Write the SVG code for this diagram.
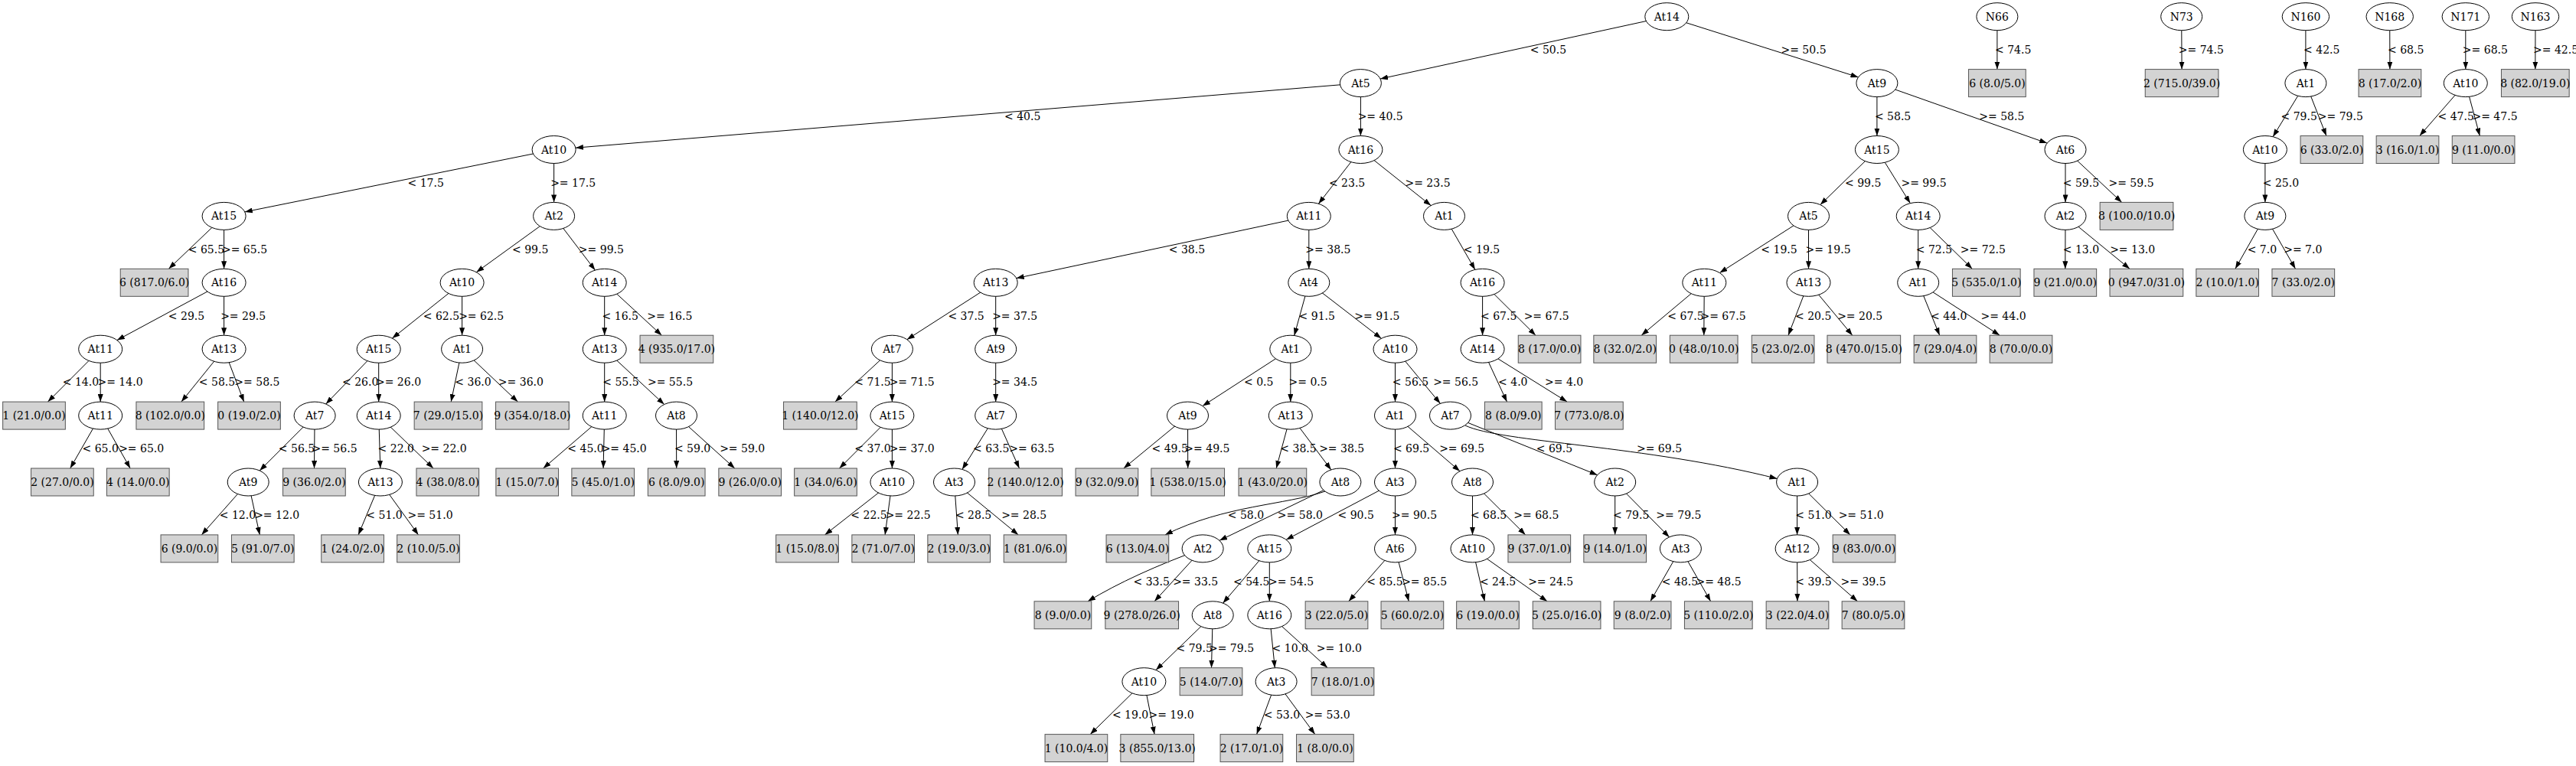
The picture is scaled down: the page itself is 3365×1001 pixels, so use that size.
<svg xmlns="http://www.w3.org/2000/svg" width="3365" height="1001" viewBox="0 0 3365 1001">
<defs>
<marker id="arr" viewBox="0 0 10 7" refX="10" refY="3.5" markerWidth="10" markerHeight="7" markerUnits="userSpaceOnUse" orient="auto"><path d="M0,0 L10,3.5 L0,7 z" fill="#000"/></marker>
<style>
text{font-family:"DejaVu Serif","Liberation Serif",serif;font-size:14px;fill:#000;text-anchor:middle}
#edges path{fill:none;stroke:#000;stroke-width:1;marker-end:url(#arr)}
ellipse{fill:#fff;stroke:#000;stroke-width:1}
rect.leaf{fill:#d3d3d3;stroke:#555;stroke-width:1;height:36px}
</style>
</defs>
<rect x="0" y="0" width="3365" height="1001" fill="#fff"/>
<g id="edges">
<path d="M2177.3,21.7 L1803.1,103"/>
<path d="M2177.3,21.7 L2427.5,100.9"/>
<path d="M1777.4,108.6 L751.9,193.2"/>
<path d="M1777.4,108.6 L1777.4,177.5"/>
<path d="M723.6,195.5 L319.8,276.9"/>
<path d="M723.6,195.5 L723.6,264.4"/>
<path d="M292.6,282.4 L220.4,351.3"/>
<path d="M292.6,282.4 L292.6,351.3"/>
<path d="M292.6,369.3 L152.9,444.5"/>
<path d="M292.6,369.3 L292.6,438.2"/>
<path d="M131.2,456.2 L62.5,525.1"/>
<path d="M131.2,456.2 L131.2,525.1"/>
<path d="M131.2,543.1 L91.7,612"/>
<path d="M131.2,543.1 L170.1,612"/>
<path d="M292.6,456.2 L236.9,525.1"/>
<path d="M292.6,456.2 L318.7,525.1"/>
<path d="M723.6,282.4 L622.3,355.7"/>
<path d="M723.6,282.4 L777.4,353.1"/>
<path d="M603.6,369.3 L512.4,442.1"/>
<path d="M603.6,369.3 L603.6,438.2"/>
<path d="M494.7,456.2 L425.7,528"/>
<path d="M494.7,456.2 L494.7,525.1"/>
<path d="M411.1,543.1 L339.2,615"/>
<path d="M411.1,543.1 L410.5,612"/>
<path d="M324.2,630 L263.3,698.9"/>
<path d="M324.2,630 L339.3,698.9"/>
<path d="M494.7,543.1 L496.8,612"/>
<path d="M494.7,543.1 L566.1,612"/>
<path d="M496.9,630 L468.1,698.9"/>
<path d="M496.9,630 L546.5,698.9"/>
<path d="M603.6,456.2 L589.2,525.1"/>
<path d="M603.6,456.2 L676.4,525.1"/>
<path d="M789.7,369.3 L789.7,438.2"/>
<path d="M789.7,369.3 L864.4,438.2"/>
<path d="M789.7,456.2 L789.7,525.1"/>
<path d="M789.7,456.2 L867.7,528.5"/>
<path d="M789.7,543.1 L709.6,612"/>
<path d="M789.7,543.1 L788.1,612"/>
<path d="M883.5,543.1 L883.7,612"/>
<path d="M883.5,543.1 L959.8,612"/>
<path d="M1777.4,195.5 L1722.4,266.2"/>
<path d="M1777.4,195.5 L1869.2,268.6"/>
<path d="M1709.8,282.4 L1327.7,363.6"/>
<path d="M1709.8,282.4 L1709.8,351.3"/>
<path d="M1300.7,369.3 L1184.8,443.7"/>
<path d="M1300.7,369.3 L1300.7,438.2"/>
<path d="M1165.4,456.2 L1090.9,525.1"/>
<path d="M1165.4,456.2 L1165.4,525.1"/>
<path d="M1165.4,543.1 L1096.5,612"/>
<path d="M1165.4,543.1 L1165.4,612"/>
<path d="M1165.4,630 L1077.5,698.9"/>
<path d="M1165.4,630 L1156.1,698.9"/>
<path d="M1300.7,456.2 L1300.7,525.1"/>
<path d="M1300.7,543.1 L1256.9,613.4"/>
<path d="M1300.7,543.1 L1331.5,612"/>
<path d="M1246.5,630 L1251.4,698.9"/>
<path d="M1246.5,630 L1330.2,698.9"/>
<path d="M1709.8,369.3 L1690.7,438.5"/>
<path d="M1709.8,369.3 L1804.4,442.3"/>
<path d="M1685.8,456.2 L1570.9,530.6"/>
<path d="M1685.8,456.2 L1685.8,525.1"/>
<path d="M1551.5,543.1 L1467.8,612"/>
<path d="M1551.5,543.1 L1551.7,612"/>
<path d="M1685.8,543.1 L1667.2,612"/>
<path d="M1685.8,543.1 L1738.8,613.9"/>
<path d="M1731,642 C1680,660 1600,660 1522,698.9"/>
<path d="M1750.9,630 L1593,706.3"/>
<path d="M1571.1,716.9 Q1480,750 1421,785.8"/>
<path d="M1571.1,716.9 L1508.1,785.8"/>
<path d="M1822.5,456.2 L1822.5,525.1"/>
<path d="M1822.5,456.2 L1881.4,527.3"/>
<path d="M1822.5,543.1 L1822.5,612"/>
<path d="M1822.5,543.1 L1907,615.8"/>
<path d="M1822.5,630 L1680.1,705.3"/>
<path d="M1822.5,630 L1822.5,698.9"/>
<path d="M1658.3,716.9 L1597.5,788.2"/>
<path d="M1658.3,716.9 L1658.3,785.8"/>
<path d="M1584.2,803.8 L1510,875.6"/>
<path d="M1584.2,803.8 L1582.5,872.7"/>
<path d="M1494.4,890.7 L1424.2,959.6"/>
<path d="M1494.4,890.7 L1508.1,959.6"/>
<path d="M1658.3,803.8 L1665.3,872.7"/>
<path d="M1658.3,803.8 L1734.2,872.7"/>
<path d="M1667.1,890.7 L1641.6,959.6"/>
<path d="M1667.1,890.7 L1717.7,959.6"/>
<path d="M1822.5,716.9 L1761.8,785.8"/>
<path d="M1822.5,716.9 L1840.3,785.8"/>
<path d="M1923.5,630 L1923.5,698.9"/>
<path d="M1923.5,630 L1992.7,698.9"/>
<path d="M1923.5,716.9 L1939.4,785.8"/>
<path d="M1923.5,716.9 L2021.1,785.8"/>
<path d="M1894.5,543.1 L2086.6,620.7"/>
<path d="M1914,556 C1960,578 2150,582 2321.5,625.5"/>
<path d="M2109.7,630 L2109.7,698.9"/>
<path d="M2109.7,630 L2180.6,701.9"/>
<path d="M2195.4,716.9 L2155.9,785.8"/>
<path d="M2195.4,716.9 L2234.6,785.8"/>
<path d="M2347.6,630 L2347.6,698.9"/>
<path d="M2347.6,630 L2416.9,698.9"/>
<path d="M2347.6,716.9 L2347.9,785.8"/>
<path d="M2347.6,716.9 L2426.4,785.8"/>
<path d="M1886.5,282.4 L1926.9,352.4"/>
<path d="M1936.6,369.3 L1936.6,438.2"/>
<path d="M1936.6,369.3 L2006,438.2"/>
<path d="M1936.6,456.2 L1968.5,525.1"/>
<path d="M1936.6,456.2 L2047.1,525.1"/>
<path d="M2451.9,108.6 L2451.9,177.5"/>
<path d="M2451.9,108.6 L2674.1,187.1"/>
<path d="M2451.9,195.5 L2377.8,267.6"/>
<path d="M2451.9,195.5 L2495.3,265.6"/>
<path d="M2362.5,282.4 L2246.4,356.5"/>
<path d="M2362.5,282.4 L2362.5,351.3"/>
<path d="M2226.3,369.3 L2144.2,438.2"/>
<path d="M2226.3,369.3 L2225.8,438.2"/>
<path d="M2362.5,369.3 L2336,438.2"/>
<path d="M2362.5,369.3 L2419.8,438.2"/>
<path d="M2505.7,282.4 L2505.7,351.3"/>
<path d="M2505.7,282.4 L2576.3,351.3"/>
<path d="M2505.7,369.3 L2533.7,438.2"/>
<path d="M2505.7,369.3 L2612.2,438.2"/>
<path d="M2698,195.5 L2698,264.4"/>
<path d="M2698,195.5 L2771.7,264.4"/>
<path d="M2698,282.4 L2697.8,351.3"/>
<path d="M2698,282.4 L2782,351.3"/>
<path d="M2608.9,21.7 L2608.9,90.6"/>
<path d="M2849.7,21.7 L2850.1,90.6"/>
<path d="M3011.9,21.7 L3011.9,90.6"/>
<path d="M3011.9,108.6 L2969.1,178.7"/>
<path d="M3011.9,108.6 L3038.9,177.5"/>
<path d="M2958.9,195.5 L2958.9,264.4"/>
<path d="M2958.9,282.4 L2919.9,351.3"/>
<path d="M2958.9,282.4 L2998.5,351.3"/>
<path d="M3121.7,21.7 L3121.9,90.6"/>
<path d="M3220.8,21.7 L3220.8,90.6"/>
<path d="M3220.8,108.6 L3160.7,177.5"/>
<path d="M3220.8,108.6 L3239.3,177.5"/>
<path d="M3312,21.7 L3311.8,90.6"/>
</g>
<g id="edge-labels">
<text x="2022.4" y="69.9">&lt; 50.5</text>
<text x="2356" y="69.9">&gt;= 50.5</text>
<text x="1335.7" y="156.8">&lt; 40.5</text>
<text x="1803.2" y="156.8">&gt;= 40.5</text>
<text x="556.2" y="243.7">&lt; 17.5</text>
<text x="748.7" y="243.7">&gt;= 17.5</text>
<text x="269.4" y="330.6">&lt; 65.5</text>
<text x="319.5" y="330.6">&gt;= 65.5</text>
<text x="243.5" y="417.5">&lt; 29.5</text>
<text x="317.7" y="417.5">&gt;= 29.5</text>
<text x="105.4" y="504.4">&lt; 14.0</text>
<text x="157" y="504.4">&gt;= 14.0</text>
<text x="131.2" y="591.3">&lt; 65.0</text>
<text x="184.7" y="591.3">&gt;= 65.0</text>
<text x="283.5" y="504.4">&lt; 58.5</text>
<text x="335.9" y="504.4">&gt;= 58.5</text>
<text x="692.7" y="330.6">&lt; 99.5</text>
<text x="785.4" y="330.6">&gt;= 99.5</text>
<text x="576.4" y="417.5">&lt; 62.5</text>
<text x="628.7" y="417.5">&gt;= 62.5</text>
<text x="470.7" y="504.4">&lt; 26.0</text>
<text x="520.5" y="504.4">&gt;= 26.0</text>
<text x="387.5" y="591.3">&lt; 56.5</text>
<text x="437" y="591.3">&gt;= 56.5</text>
<text x="310.4" y="678.2">&lt; 12.0</text>
<text x="361.7" y="678.2">&gt;= 12.0</text>
<text x="517.3" y="591.3">&lt; 22.0</text>
<text x="580.2" y="591.3">&gt;= 22.0</text>
<text x="502" y="678.2">&lt; 51.0</text>
<text x="562" y="678.2">&gt;= 51.0</text>
<text x="618" y="504.4">&lt; 36.0</text>
<text x="680.4" y="504.4">&gt;= 36.0</text>
<text x="810.3" y="417.5">&lt; 16.5</text>
<text x="874.8" y="417.5">&gt;= 16.5</text>
<text x="810.9" y="504.4">&lt; 55.5</text>
<text x="875.5" y="504.4">&gt;= 55.5</text>
<text x="765" y="591.3">&lt; 45.0</text>
<text x="815.2" y="591.3">&gt;= 45.0</text>
<text x="904.6" y="591.3">&lt; 59.0</text>
<text x="969.7" y="591.3">&gt;= 59.0</text>
<text x="1759.6" y="243.7">&lt; 23.5</text>
<text x="1865" y="243.7">&gt;= 23.5</text>
<text x="1550.4" y="330.6">&lt; 38.5</text>
<text x="1734.9" y="330.6">&gt;= 38.5</text>
<text x="1262.1" y="417.5">&lt; 37.5</text>
<text x="1325.7" y="417.5">&gt;= 37.5</text>
<text x="1140" y="504.4">&lt; 71.5</text>
<text x="1191.2" y="504.4">&gt;= 71.5</text>
<text x="1140" y="591.3">&lt; 37.0</text>
<text x="1191.2" y="591.3">&gt;= 37.0</text>
<text x="1135" y="678.2">&lt; 22.5</text>
<text x="1186.2" y="678.2">&gt;= 22.5</text>
<text x="1325.7" y="504.4">&gt;= 34.5</text>
<text x="1294.8" y="591.3">&lt; 63.5</text>
<text x="1347.9" y="591.3">&gt;= 63.5</text>
<text x="1271.6" y="678.2">&lt; 28.5</text>
<text x="1337.7" y="678.2">&gt;= 28.5</text>
<text x="1720.3" y="417.5">&lt; 91.5</text>
<text x="1798.9" y="417.5">&gt;= 91.5</text>
<text x="1644.2" y="504.4">&lt; 0.5</text>
<text x="1708.6" y="504.4">&gt;= 0.5</text>
<text x="1528.2" y="591.3">&lt; 49.5</text>
<text x="1576.9" y="591.3">&gt;= 49.5</text>
<text x="1696" y="591.3">&lt; 38.5</text>
<text x="1752.7" y="591.3">&gt;= 38.5</text>
<text x="1627.4" y="678.2">&lt; 58.0</text>
<text x="1698.4" y="678.2">&gt;= 58.0</text>
<text x="1504.2" y="765.1">&lt; 33.5</text>
<text x="1561.7" y="765.1">&gt;= 33.5</text>
<text x="1842.5" y="504.4">&lt; 56.5</text>
<text x="1901.7" y="504.4">&gt;= 56.5</text>
<text x="1843.6" y="591.3">&lt; 69.5</text>
<text x="1909.7" y="591.3">&gt;= 69.5</text>
<text x="1771.2" y="678.2">&lt; 90.5</text>
<text x="1847.6" y="678.2">&gt;= 90.5</text>
<text x="1634.7" y="765.1">&lt; 54.5</text>
<text x="1686.5" y="765.1">&gt;= 54.5</text>
<text x="1560.2" y="852">&lt; 79.5</text>
<text x="1608.5" y="852">&gt;= 79.5</text>
<text x="1476.6" y="938.9">&lt; 19.0</text>
<text x="1530" y="938.9">&gt;= 19.0</text>
<text x="1685.3" y="852">&lt; 10.0</text>
<text x="1749.4" y="852">&gt;= 10.0</text>
<text x="1674.4" y="938.9">&lt; 53.0</text>
<text x="1734.2" y="938.9">&gt;= 53.0</text>
<text x="1809" y="765.1">&lt; 85.5</text>
<text x="1860.7" y="765.1">&gt;= 85.5</text>
<text x="1944.6" y="678.2">&lt; 68.5</text>
<text x="2006.8" y="678.2">&gt;= 68.5</text>
<text x="1956.6" y="765.1">&lt; 24.5</text>
<text x="2025.7" y="765.1">&gt;= 24.5</text>
<text x="2030.4" y="591.3">&lt; 69.5</text>
<text x="2167.5" y="591.3">&gt;= 69.5</text>
<text x="2130.7" y="678.2">&lt; 79.5</text>
<text x="2192.9" y="678.2">&gt;= 79.5</text>
<text x="2194.4" y="765.1">&lt; 48.5</text>
<text x="2245" y="765.1">&gt;= 48.5</text>
<text x="2369" y="678.2">&lt; 51.0</text>
<text x="2431.2" y="678.2">&gt;= 51.0</text>
<text x="2369" y="765.1">&lt; 39.5</text>
<text x="2434.1" y="765.1">&gt;= 39.5</text>
<text x="1935.5" y="330.6">&lt; 19.5</text>
<text x="1957.7" y="417.5">&lt; 67.5</text>
<text x="2020.2" y="417.5">&gt;= 67.5</text>
<text x="1976.3" y="504.4">&lt; 4.0</text>
<text x="2043.1" y="504.4">&gt;= 4.0</text>
<text x="2472.6" y="156.8">&lt; 58.5</text>
<text x="2614.8" y="156.8">&gt;= 58.5</text>
<text x="2433.7" y="243.7">&lt; 99.5</text>
<text x="2513" y="243.7">&gt;= 99.5</text>
<text x="2324" y="330.6">&lt; 19.5</text>
<text x="2388" y="330.6">&gt;= 19.5</text>
<text x="2202" y="417.5">&lt; 67.5</text>
<text x="2251" y="417.5">&gt;= 67.5</text>
<text x="2368.7" y="417.5">&lt; 20.5</text>
<text x="2429.7" y="417.5">&gt;= 20.5</text>
<text x="2526.4" y="330.6">&lt; 72.5</text>
<text x="2590.4" y="330.6">&gt;= 72.5</text>
<text x="2545.7" y="417.5">&lt; 44.0</text>
<text x="2617" y="417.5">&gt;= 44.0</text>
<text x="2718.4" y="243.7">&lt; 59.5</text>
<text x="2784" y="243.7">&gt;= 59.5</text>
<text x="2718.4" y="330.6">&lt; 13.0</text>
<text x="2785.7" y="330.6">&gt;= 13.0</text>
<text x="2629.7" y="69.9">&lt; 74.5</text>
<text x="2875.3" y="69.9">&gt;= 74.5</text>
<text x="3032.8" y="69.9">&lt; 42.5</text>
<text x="3003.2" y="156.8">&lt; 79.5</text>
<text x="3057.3" y="156.8">&gt;= 79.5</text>
<text x="2979.4" y="243.7">&lt; 25.0</text>
<text x="2954.9" y="330.6">&lt; 7.0</text>
<text x="3008.3" y="330.6">&gt;= 7.0</text>
<text x="3142.7" y="69.9">&lt; 68.5</text>
<text x="3246.4" y="69.9">&gt;= 68.5</text>
<text x="3208.2" y="156.8">&lt; 47.5</text>
<text x="3259" y="156.8">&gt;= 47.5</text>
<text x="3338.6" y="69.9">&gt;= 42.5</text>
</g>
<g id="nodes">
<g id="n1"><ellipse cx="2177.3" cy="21.7" rx="28.5" ry="18"/><text x="2177.3" y="26.7">At14</text></g>
<g id="n2"><ellipse cx="1777.4" cy="108.6" rx="27" ry="18"/><text x="1777.4" y="113.6">At5</text></g>
<g id="n3"><ellipse cx="2451.9" cy="108.6" rx="27" ry="18"/><text x="2451.9" y="113.6">At9</text></g>
<g id="n4"><ellipse cx="723.6" cy="195.5" rx="28.5" ry="18"/><text x="723.6" y="200.5">At10</text></g>
<g id="n5"><ellipse cx="1777.4" cy="195.5" rx="28.5" ry="18"/><text x="1777.4" y="200.5">At16</text></g>
<g id="n6"><ellipse cx="292.6" cy="282.4" rx="28.5" ry="18"/><text x="292.6" y="287.4">At15</text></g>
<g id="n7"><ellipse cx="723.6" cy="282.4" rx="27" ry="18"/><text x="723.6" y="287.4">At2</text></g>
<g id="n8"><ellipse cx="292.6" cy="369.3" rx="28.5" ry="18"/><text x="292.6" y="374.3">At16</text></g>
<g id="n9"><ellipse cx="131.2" cy="456.2" rx="28.5" ry="18"/><text x="131.2" y="461.2">At11</text></g>
<g id="n10"><ellipse cx="292.6" cy="456.2" rx="28.5" ry="18"/><text x="292.6" y="461.2">At13</text></g>
<g id="n11"><ellipse cx="131.2" cy="543.1" rx="28.5" ry="18"/><text x="131.2" y="548.1">At11</text></g>
<g id="n12"><ellipse cx="603.6" cy="369.3" rx="28.5" ry="18"/><text x="603.6" y="374.3">At10</text></g>
<g id="n13"><ellipse cx="789.7" cy="369.3" rx="28.5" ry="18"/><text x="789.7" y="374.3">At14</text></g>
<g id="n14"><ellipse cx="494.7" cy="456.2" rx="28.5" ry="18"/><text x="494.7" y="461.2">At15</text></g>
<g id="n15"><ellipse cx="603.6" cy="456.2" rx="27" ry="18"/><text x="603.6" y="461.2">At1</text></g>
<g id="n16"><ellipse cx="411.1" cy="543.1" rx="27" ry="18"/><text x="411.1" y="548.1">At7</text></g>
<g id="n17"><ellipse cx="494.7" cy="543.1" rx="28.5" ry="18"/><text x="494.7" y="548.1">At14</text></g>
<g id="n18"><ellipse cx="324.2" cy="630" rx="27" ry="18"/><text x="324.2" y="635">At9</text></g>
<g id="n19"><ellipse cx="496.9" cy="630" rx="28.5" ry="18"/><text x="496.9" y="635">At13</text></g>
<g id="n20"><ellipse cx="789.7" cy="456.2" rx="28.5" ry="18"/><text x="789.7" y="461.2">At13</text></g>
<g id="n21"><ellipse cx="789.7" cy="543.1" rx="28.5" ry="18"/><text x="789.7" y="548.1">At11</text></g>
<g id="n22"><ellipse cx="883.5" cy="543.1" rx="27" ry="18"/><text x="883.5" y="548.1">At8</text></g>
<g id="n23"><ellipse cx="1709.8" cy="282.4" rx="28.5" ry="18"/><text x="1709.8" y="287.4">At11</text></g>
<g id="n24"><ellipse cx="1886.5" cy="282.4" rx="27" ry="18"/><text x="1886.5" y="287.4">At1</text></g>
<g id="n25"><ellipse cx="1300.7" cy="369.3" rx="28.5" ry="18"/><text x="1300.7" y="374.3">At13</text></g>
<g id="n26"><ellipse cx="1709.8" cy="369.3" rx="27" ry="18"/><text x="1709.8" y="374.3">At4</text></g>
<g id="n27"><ellipse cx="1165.4" cy="456.2" rx="27" ry="18"/><text x="1165.4" y="461.2">At7</text></g>
<g id="n28"><ellipse cx="1300.7" cy="456.2" rx="27" ry="18"/><text x="1300.7" y="461.2">At9</text></g>
<g id="n29"><ellipse cx="1165.4" cy="543.1" rx="28.5" ry="18"/><text x="1165.4" y="548.1">At15</text></g>
<g id="n30"><ellipse cx="1165.4" cy="630" rx="28.5" ry="18"/><text x="1165.4" y="635">At10</text></g>
<g id="n31"><ellipse cx="1300.7" cy="543.1" rx="27" ry="18"/><text x="1300.7" y="548.1">At7</text></g>
<g id="n32"><ellipse cx="1246.5" cy="630" rx="27" ry="18"/><text x="1246.5" y="635">At3</text></g>
<g id="n33"><ellipse cx="1685.8" cy="456.2" rx="27" ry="18"/><text x="1685.8" y="461.2">At1</text></g>
<g id="n34"><ellipse cx="1822.5" cy="456.2" rx="28.5" ry="18"/><text x="1822.5" y="461.2">At10</text></g>
<g id="n35"><ellipse cx="1551.5" cy="543.1" rx="27" ry="18"/><text x="1551.5" y="548.1">At9</text></g>
<g id="n36"><ellipse cx="1685.8" cy="543.1" rx="28.5" ry="18"/><text x="1685.8" y="548.1">At13</text></g>
<g id="n37"><ellipse cx="1750.9" cy="630" rx="27" ry="18"/><text x="1750.9" y="635">At8</text></g>
<g id="n38"><ellipse cx="1571.1" cy="716.9" rx="27" ry="18"/><text x="1571.1" y="721.9">At2</text></g>
<g id="n39"><ellipse cx="1822.5" cy="543.1" rx="27" ry="18"/><text x="1822.5" y="548.1">At1</text></g>
<g id="n40"><ellipse cx="1894.5" cy="543.1" rx="27" ry="18"/><text x="1894.5" y="548.1">At7</text></g>
<g id="n41"><ellipse cx="1822.5" cy="630" rx="27" ry="18"/><text x="1822.5" y="635">At3</text></g>
<g id="n42"><ellipse cx="1923.5" cy="630" rx="27" ry="18"/><text x="1923.5" y="635">At8</text></g>
<g id="n43"><ellipse cx="1658.3" cy="716.9" rx="28.5" ry="18"/><text x="1658.3" y="721.9">At15</text></g>
<g id="n44"><ellipse cx="1822.5" cy="716.9" rx="27" ry="18"/><text x="1822.5" y="721.9">At6</text></g>
<g id="n45"><ellipse cx="1584.2" cy="803.8" rx="27" ry="18"/><text x="1584.2" y="808.8">At8</text></g>
<g id="n46"><ellipse cx="1658.3" cy="803.8" rx="28.5" ry="18"/><text x="1658.3" y="808.8">At16</text></g>
<g id="n47"><ellipse cx="1494.4" cy="890.7" rx="28.5" ry="18"/><text x="1494.4" y="895.7">At10</text></g>
<g id="n48"><ellipse cx="1667.1" cy="890.7" rx="27" ry="18"/><text x="1667.1" y="895.7">At3</text></g>
<g id="n49"><ellipse cx="1923.5" cy="716.9" rx="28.5" ry="18"/><text x="1923.5" y="721.9">At10</text></g>
<g id="n50"><ellipse cx="2109.7" cy="630" rx="27" ry="18"/><text x="2109.7" y="635">At2</text></g>
<g id="n51"><ellipse cx="2347.6" cy="630" rx="27" ry="18"/><text x="2347.6" y="635">At1</text></g>
<g id="n52"><ellipse cx="2195.4" cy="716.9" rx="27" ry="18"/><text x="2195.4" y="721.9">At3</text></g>
<g id="n53"><ellipse cx="2347.6" cy="716.9" rx="28.5" ry="18"/><text x="2347.6" y="721.9">At12</text></g>
<g id="n54"><ellipse cx="1936.6" cy="369.3" rx="28.5" ry="18"/><text x="1936.6" y="374.3">At16</text></g>
<g id="n55"><ellipse cx="1936.6" cy="456.2" rx="28.5" ry="18"/><text x="1936.6" y="461.2">At14</text></g>
<g id="n56"><ellipse cx="2451.9" cy="195.5" rx="28.5" ry="18"/><text x="2451.9" y="200.5">At15</text></g>
<g id="n57"><ellipse cx="2698" cy="195.5" rx="27" ry="18"/><text x="2698" y="200.5">At6</text></g>
<g id="n58"><ellipse cx="2362.5" cy="282.4" rx="27" ry="18"/><text x="2362.5" y="287.4">At5</text></g>
<g id="n59"><ellipse cx="2505.7" cy="282.4" rx="28.5" ry="18"/><text x="2505.7" y="287.4">At14</text></g>
<g id="n60"><ellipse cx="2698" cy="282.4" rx="27" ry="18"/><text x="2698" y="287.4">At2</text></g>
<g id="n61"><ellipse cx="2226.3" cy="369.3" rx="28.5" ry="18"/><text x="2226.3" y="374.3">At11</text></g>
<g id="n62"><ellipse cx="2362.5" cy="369.3" rx="28.5" ry="18"/><text x="2362.5" y="374.3">At13</text></g>
<g id="n63"><ellipse cx="2505.7" cy="369.3" rx="27" ry="18"/><text x="2505.7" y="374.3">At1</text></g>
<g id="n64"><ellipse cx="2608.9" cy="21.7" rx="27" ry="18"/><text x="2608.9" y="26.7">N66</text></g>
<g id="n65"><ellipse cx="2849.7" cy="21.7" rx="27" ry="18"/><text x="2849.7" y="26.7">N73</text></g>
<g id="n66"><ellipse cx="3011.9" cy="21.7" rx="30.7" ry="18"/><text x="3011.9" y="26.7">N160</text></g>
<g id="n67"><ellipse cx="3011.9" cy="108.6" rx="27" ry="18"/><text x="3011.9" y="113.6">At1</text></g>
<g id="n68"><ellipse cx="2958.9" cy="195.5" rx="28.5" ry="18"/><text x="2958.9" y="200.5">At10</text></g>
<g id="n69"><ellipse cx="2958.9" cy="282.4" rx="27" ry="18"/><text x="2958.9" y="287.4">At9</text></g>
<g id="n70"><ellipse cx="3121.7" cy="21.7" rx="30.7" ry="18"/><text x="3121.7" y="26.7">N168</text></g>
<g id="n71"><ellipse cx="3220.8" cy="21.7" rx="30.7" ry="18"/><text x="3220.8" y="26.7">N171</text></g>
<g id="n72"><ellipse cx="3220.8" cy="108.6" rx="28.5" ry="18"/><text x="3220.8" y="113.6">At10</text></g>
<g id="n73"><ellipse cx="3312" cy="21.7" rx="30.7" ry="18"/><text x="3312" y="26.7">N163</text></g>
<g id="l1"><rect class="leaf" x="157.25" y="351.3" width="88.7" height="36"/><text x="201.6" y="374.3">6 (817.0/6.0)</text></g>
<g id="l2"><rect class="leaf" x="3.65" y="525.1" width="81.7" height="36"/><text x="44.5" y="548.1">1 (21.0/0.0)</text></g>
<g id="l3"><rect class="leaf" x="177.95" y="525.1" width="88.7" height="36"/><text x="222.3" y="548.1">8 (102.0/0.0)</text></g>
<g id="l4"><rect class="leaf" x="284.65" y="525.1" width="81.7" height="36"/><text x="325.5" y="548.1">0 (19.0/2.0)</text></g>
<g id="l5"><rect class="leaf" x="40.55" y="612" width="81.7" height="36"/><text x="81.4" y="635">2 (27.0/0.0)</text></g>
<g id="l6"><rect class="leaf" x="139.45" y="612" width="81.7" height="36"/><text x="180.3" y="635">4 (14.0/0.0)</text></g>
<g id="l7"><rect class="leaf" x="369.55" y="612" width="81.7" height="36"/><text x="410.4" y="635">9 (36.0/2.0)</text></g>
<g id="l8"><rect class="leaf" x="210.05" y="698.9" width="74.7" height="36"/><text x="247.4" y="721.9">6 (9.0/0.0)</text></g>
<g id="l9"><rect class="leaf" x="302.45" y="698.9" width="81.7" height="36"/><text x="343.3" y="721.9">5 (91.0/7.0)</text></g>
<g id="l10"><rect class="leaf" x="543.95" y="612" width="81.7" height="36"/><text x="584.8" y="635">4 (38.0/8.0)</text></g>
<g id="l11"><rect class="leaf" x="419.75" y="698.9" width="81.7" height="36"/><text x="460.6" y="721.9">1 (24.0/2.0)</text></g>
<g id="l12"><rect class="leaf" x="518.65" y="698.9" width="81.7" height="36"/><text x="559.5" y="721.9">2 (10.0/5.0)</text></g>
<g id="l13"><rect class="leaf" x="541.15" y="525.1" width="88.7" height="36"/><text x="585.5" y="548.1">7 (29.0/15.0)</text></g>
<g id="l14"><rect class="leaf" x="647.55" y="525.1" width="95.7" height="36"/><text x="695.4" y="548.1">9 (354.0/18.0)</text></g>
<g id="l15"><rect class="leaf" x="836.05" y="438.2" width="95.7" height="36"/><text x="883.9" y="461.2">4 (935.0/17.0)</text></g>
<g id="l16"><rect class="leaf" x="647.85" y="612" width="81.7" height="36"/><text x="688.7" y="635">1 (15.0/7.0)</text></g>
<g id="l17"><rect class="leaf" x="746.85" y="612" width="81.7" height="36"/><text x="787.7" y="635">5 (45.0/1.0)</text></g>
<g id="l18"><rect class="leaf" x="846.35" y="612" width="74.7" height="36"/><text x="883.7" y="635">6 (8.0/9.0)</text></g>
<g id="l19"><rect class="leaf" x="938.85" y="612" width="81.7" height="36"/><text x="979.7" y="635">9 (26.0/0.0)</text></g>
<g id="l20"><rect class="leaf" x="1023.55" y="525.1" width="95.7" height="36"/><text x="1071.4" y="548.1">1 (140.0/12.0)</text></g>
<g id="l21"><rect class="leaf" x="1037.65" y="612" width="81.7" height="36"/><text x="1078.5" y="635">1 (34.0/6.0)</text></g>
<g id="l22"><rect class="leaf" x="1013.65" y="698.9" width="81.7" height="36"/><text x="1054.5" y="721.9">1 (15.0/8.0)</text></g>
<g id="l23"><rect class="leaf" x="1112.85" y="698.9" width="81.7" height="36"/><text x="1153.7" y="721.9">2 (71.0/7.0)</text></g>
<g id="l24"><rect class="leaf" x="1291.75" y="612" width="95.7" height="36"/><text x="1339.6" y="635">2 (140.0/12.0)</text></g>
<g id="l25"><rect class="leaf" x="1211.85" y="698.9" width="81.7" height="36"/><text x="1252.7" y="721.9">2 (19.0/3.0)</text></g>
<g id="l26"><rect class="leaf" x="1311.25" y="698.9" width="81.7" height="36"/><text x="1352.1" y="721.9">1 (81.0/6.0)</text></g>
<g id="l27"><rect class="leaf" x="1405.05" y="612" width="81.7" height="36"/><text x="1445.9" y="635">9 (32.0/9.0)</text></g>
<g id="l28"><rect class="leaf" x="1503.85" y="612" width="95.7" height="36"/><text x="1551.7" y="635">1 (538.0/15.0)</text></g>
<g id="l29"><rect class="leaf" x="1618.05" y="612" width="88.7" height="36"/><text x="1662.4" y="635">1 (43.0/20.0)</text></g>
<g id="l30"><rect class="leaf" x="1445.05" y="698.9" width="81.7" height="36"/><text x="1485.9" y="721.9">6 (13.0/4.0)</text></g>
<g id="l31"><rect class="leaf" x="1351.05" y="785.8" width="74.7" height="36"/><text x="1388.4" y="808.8">8 (9.0/0.0)</text></g>
<g id="l32"><rect class="leaf" x="1443.85" y="785.8" width="95.7" height="36"/><text x="1491.7" y="808.8">9 (278.0/26.0)</text></g>
<g id="l33"><rect class="leaf" x="1541.15" y="872.7" width="81.7" height="36"/><text x="1582" y="895.7">5 (14.0/7.0)</text></g>
<g id="l34"><rect class="leaf" x="1365.05" y="959.6" width="81.7" height="36"/><text x="1405.9" y="982.6">1 (10.0/4.0)</text></g>
<g id="l35"><rect class="leaf" x="1463.85" y="959.6" width="95.7" height="36"/><text x="1511.7" y="982.6">3 (855.0/13.0)</text></g>
<g id="l36"><rect class="leaf" x="1713.15" y="872.7" width="81.7" height="36"/><text x="1754" y="895.7">7 (18.0/1.0)</text></g>
<g id="l37"><rect class="leaf" x="1594.05" y="959.6" width="81.7" height="36"/><text x="1634.9" y="982.6">2 (17.0/1.0)</text></g>
<g id="l38"><rect class="leaf" x="1693.55" y="959.6" width="74.7" height="36"/><text x="1730.9" y="982.6">1 (8.0/0.0)</text></g>
<g id="l39"><rect class="leaf" x="1705.15" y="785.8" width="81.7" height="36"/><text x="1746" y="808.8">3 (22.0/5.0)</text></g>
<g id="l40"><rect class="leaf" x="1804.05" y="785.8" width="81.7" height="36"/><text x="1844.9" y="808.8">5 (60.0/2.0)</text></g>
<g id="l41"><rect class="leaf" x="1969.95" y="698.9" width="81.7" height="36"/><text x="2010.8" y="721.9">9 (37.0/1.0)</text></g>
<g id="l42"><rect class="leaf" x="1902.65" y="785.8" width="81.7" height="36"/><text x="1943.5" y="808.8">6 (19.0/0.0)</text></g>
<g id="l43"><rect class="leaf" x="2002.25" y="785.8" width="88.7" height="36"/><text x="2046.6" y="808.8">5 (25.0/16.0)</text></g>
<g id="l44"><rect class="leaf" x="2068.85" y="698.9" width="81.7" height="36"/><text x="2109.7" y="721.9">9 (14.0/1.0)</text></g>
<g id="l45"><rect class="leaf" x="2108.25" y="785.8" width="74.7" height="36"/><text x="2145.6" y="808.8">9 (8.0/2.0)</text></g>
<g id="l46"><rect class="leaf" x="2200.45" y="785.8" width="88.7" height="36"/><text x="2244.8" y="808.8">5 (110.0/2.0)</text></g>
<g id="l47"><rect class="leaf" x="2394.15" y="698.9" width="81.7" height="36"/><text x="2435" y="721.9">9 (83.0/0.0)</text></g>
<g id="l48"><rect class="leaf" x="2307.15" y="785.8" width="81.7" height="36"/><text x="2348" y="808.8">3 (22.0/4.0)</text></g>
<g id="l49"><rect class="leaf" x="2406.15" y="785.8" width="81.7" height="36"/><text x="2447" y="808.8">7 (80.0/5.0)</text></g>
<g id="l50"><rect class="leaf" x="1983.25" y="438.2" width="81.7" height="36"/><text x="2024.1" y="461.2">8 (17.0/0.0)</text></g>
<g id="l51"><rect class="leaf" x="1939.45" y="525.1" width="74.7" height="36"/><text x="1976.8" y="548.1">8 (8.0/9.0)</text></g>
<g id="l52"><rect class="leaf" x="2031.55" y="525.1" width="88.7" height="36"/><text x="2075.9" y="548.1">7 (773.0/8.0)</text></g>
<g id="l53"><rect class="leaf" x="2081.85" y="438.2" width="81.7" height="36"/><text x="2122.7" y="461.2">8 (32.0/2.0)</text></g>
<g id="l54"><rect class="leaf" x="2181.35" y="438.2" width="88.7" height="36"/><text x="2225.7" y="461.2">0 (48.0/10.0)</text></g>
<g id="l55"><rect class="leaf" x="2288.25" y="438.2" width="81.7" height="36"/><text x="2329.1" y="461.2">5 (23.0/2.0)</text></g>
<g id="l56"><rect class="leaf" x="2386.95" y="438.2" width="95.7" height="36"/><text x="2434.8" y="461.2">8 (470.0/15.0)</text></g>
<g id="l57"><rect class="leaf" x="2550.45" y="351.3" width="88.7" height="36"/><text x="2594.8" y="374.3">5 (535.0/1.0)</text></g>
<g id="l58"><rect class="leaf" x="2500.15" y="438.2" width="81.7" height="36"/><text x="2541" y="461.2">7 (29.0/4.0)</text></g>
<g id="l59"><rect class="leaf" x="2599.15" y="438.2" width="81.7" height="36"/><text x="2640" y="461.2">8 (70.0/0.0)</text></g>
<g id="l60"><rect class="leaf" x="2743.15" y="264.4" width="95.7" height="36"/><text x="2791" y="287.4">8 (100.0/10.0)</text></g>
<g id="l61"><rect class="leaf" x="2656.95" y="351.3" width="81.7" height="36"/><text x="2697.8" y="374.3">9 (21.0/0.0)</text></g>
<g id="l62"><rect class="leaf" x="2756.05" y="351.3" width="95.7" height="36"/><text x="2803.9" y="374.3">0 (947.0/31.0)</text></g>
<g id="l63"><rect class="leaf" x="2571.55" y="90.6" width="74.7" height="36"/><text x="2608.9" y="113.6">6 (8.0/5.0)</text></g>
<g id="l64"><rect class="leaf" x="2802.25" y="90.6" width="95.7" height="36"/><text x="2850.1" y="113.6">2 (715.0/39.0)</text></g>
<g id="l65"><rect class="leaf" x="3005.05" y="177.5" width="81.7" height="36"/><text x="3045.9" y="200.5">6 (33.0/2.0)</text></g>
<g id="l66"><rect class="leaf" x="2868.85" y="351.3" width="81.7" height="36"/><text x="2909.7" y="374.3">2 (10.0/1.0)</text></g>
<g id="l67"><rect class="leaf" x="2967.95" y="351.3" width="81.7" height="36"/><text x="3008.8" y="374.3">7 (33.0/2.0)</text></g>
<g id="l68"><rect class="leaf" x="3081.05" y="90.6" width="81.7" height="36"/><text x="3121.9" y="113.6">8 (17.0/2.0)</text></g>
<g id="l69"><rect class="leaf" x="3104.15" y="177.5" width="81.7" height="36"/><text x="3145" y="200.5">3 (16.0/1.0)</text></g>
<g id="l70"><rect class="leaf" x="3203.25" y="177.5" width="81.7" height="36"/><text x="3244.1" y="200.5">9 (11.0/0.0)</text></g>
<g id="l71"><rect class="leaf" x="3267.45" y="90.6" width="88.7" height="36"/><text x="3311.8" y="113.6">8 (82.0/19.0)</text></g>
</g>
</svg>
